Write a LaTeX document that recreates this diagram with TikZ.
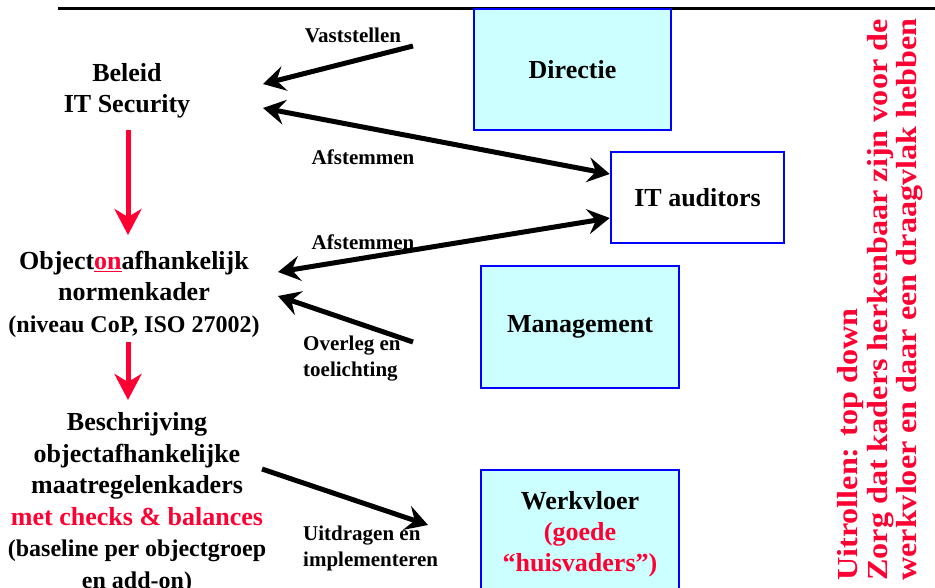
\documentclass[tikz,border=0pt]{standalone}
\usepackage{fontspec}
\setmainfont{Liberation Serif}
\newfontfamily\widefont{Liberation Serif Bold}[FakeStretch=1.11]
\usetikzlibrary{arrows.meta}
\definecolor{alert}{RGB}{255,0,51}
\definecolor{boxfill}{RGB}{204,255,255}
\definecolor{boxline}{RGB}{0,0,255}

\begin{document}
\begin{tikzpicture}[x=1pt,y=-1pt,
  lbl/.style={font=\fontsize{26}{31.5}\selectfont\bfseries, align=center, inner sep=0pt},
  small/.style={font=\fontsize{21}{26}\selectfont\bfseries, align=left, inner sep=0pt},
  side/.style={font=\widefont\fontsize{29}{30}\selectfont, text=alert, rotate=90, anchor=base west, inner sep=0pt},
  unit/.style={draw=boxline, line width=2.5pt, inner sep=0pt,
    font=\fontsize{26}{31}\selectfont\bfseries, align=center},
  flow/.style={draw=black, line width=5pt, -{Stealth[length=22pt,width=25pt,inset=8pt]}},
  both/.style={flow, {Stealth[length=22pt,width=25pt,inset=8pt]}-{Stealth[length=22pt,width=25pt,inset=8pt]}},
  down/.style={draw=alert, line width=5pt, -{Stealth[length=26pt,width=27pt,inset=8pt]}}
]
\clip (0,0) rectangle (935,587);

% header rule
\draw[line width=3pt] (58,8) -- (935,8);

% organisation boxes
\node[unit, fill=boxfill, minimum width=197pt, minimum height=121pt] (dir) at (572.5,69.5) {Directie};
\node[unit, fill=white, minimum width=173pt, minimum height=91pt] (ita) at (697.5,197.5) {IT auditors};
\node[unit, fill=boxfill, minimum width=198pt, minimum height=122pt] (man) at (580,327) {Management};
\node[unit, fill=boxfill, minimum width=198pt, minimum height=128pt] (wv) at (580,534)
  {Werkvloer\\\textcolor{alert}{(goede}\\\textcolor{alert}{“huisvaders”)}};

% left column: framework levels
\node[lbl] (bel) at (127,91) {Beleid\\IT Security};
\node[lbl] (norm) at (134,294) {Object\textcolor{alert}{\underline{on}}afhankelijk\\normenkader\\{\fontsize{24}{31.5}\selectfont(niveau CoP, ISO 27002)}};
\node[lbl] (maat) at (137,503) {Beschrijving\\objectafhankelijke\\maatregelenkaders\\\textcolor{alert}{met checks \& balances}\\{\fontsize{24}{28}\selectfont(baseline per objectgroep}\\{\fontsize{24}{26}\selectfont en add-on)}};

% arrow labels
\node[small, align=center] (l1) at (353,35) {Vaststellen};
\node[small, align=center] (l2) at (363,157) {Afstemmen};
\node[small, align=center] (l3) at (363,242) {Afstemmen};
\node[small, anchor=west] (l4) at (303,359) {Overleg en\\toelichting};
\node[small, anchor=west] (l5) at (303,548) {Uitdragen en\\implementeren};

% rotated remark
\node[side] (s1) at (857,581) {Uitrollen: top down};
\node[side] (s2) at (887,581) {Zorg dat kaders herkenbaar zijn voor de};
\node[side] (s3) at (916,581) {werkvloer en daar een draagvlak hebben};

% arrow end points
\coordinate (vsA) at (413,46);
\coordinate (vsB) at (263,84);
\coordinate (afA) at (263,108);
\coordinate (afB) at (ita.west |- 0,174);
\coordinate (afC) at (278,272);
\coordinate (afD) at (ita.west |- 0,218);
\coordinate (ovA) at (413,342);
\coordinate (ovB) at (278,296);
\coordinate (uiA) at (262,469);
\coordinate (uiB) at (428,525);
\coordinate (r1A) at (128,130);
\coordinate (r1B) at (128,235);
\coordinate (r2A) at (128,342);
\coordinate (r2B) at (128,400);

% connectors
\draw[flow] (vsA) -- (vsB);
\draw[both] (afA) -- (afB);
\draw[both] (afC) -- (afD);
\draw[flow] (ovA) -- (ovB);
\draw[flow] (uiA) -- (uiB);
\draw[down] (r1A) -- (r1B);
\draw[down] (r2A) -- (r2B);
\end{tikzpicture}
\end{document}
